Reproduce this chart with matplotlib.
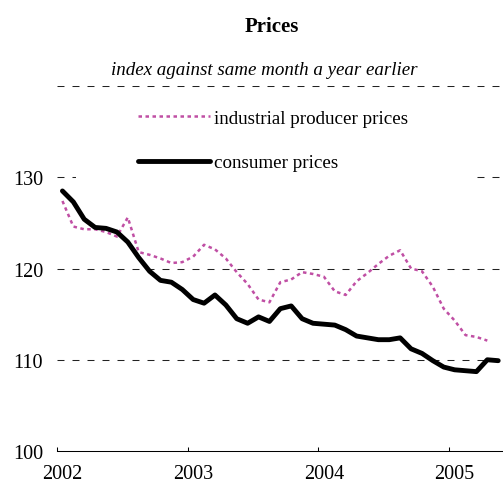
import numpy as np
import matplotlib
matplotlib.use('Agg')
import matplotlib.pyplot as plt
from matplotlib.patches import Rectangle

# Monthly data, Jan 2002 onwards (index against same month a year earlier)
years = ['2002', '2003', '2004', '2005']
consumer = [128.5, 127.3, 125.4, 124.5, 124.4, 124.0, 122.9, 121.2, 119.7, 118.7,
            118.5, 117.7, 116.6, 116.2, 117.1, 116.0, 114.5, 114.0, 114.7, 114.2,
            115.6, 115.9, 114.5, 114.0, 113.9, 113.8, 113.3, 112.6, 112.4, 112.2,
            112.2, 112.4, 111.2, 110.7, 109.9, 109.2, 108.9, 108.8, 108.7, 110.0,
            109.9]
producer = [127.4, 124.6, 124.3, 124.3, 124.0, 123.5, 125.6, 121.8, 121.5, 121.1,
            120.6, 120.7, 121.3, 122.6, 122.1, 121.1, 119.6, 118.3, 116.6, 116.3,
            118.5, 118.8, 119.6, 119.4, 119.1, 117.5, 117.1, 118.6, 119.5, 120.5,
            121.4, 122.0, 120.0, 119.7, 118.0, 115.6, 114.3, 112.7, 112.5, 112.1]

plt.rcParams['font.family'] = ['Liberation Serif', 'DejaVu Serif']

fig = plt.figure(figsize=(5.03, 4.85), dpi=100)
ax = fig.add_axes([0.1133, 0.068, 0.888, 0.7526])

# Dashed gridlines
for yv in [110, 120, 130, 140]:
    ax.axhline(yv, color='#222222', linewidth=0.75, linestyle=(0, (6.7, 7.7)), zorder=1)

# White area behind the legend (hides the gridline like the original)
ax.add_patch(Rectangle((0.043, 0.73), 0.883, 0.24, transform=ax.transAxes,
                       facecolor='white', edgecolor='none', zorder=1.5))

ax.plot(np.arange(len(producer)), producer, color='#C04FA4', linewidth=1.8,
        linestyle=(0, (1.4, 1.4)), label='industrial producer prices', zorder=3)
ax.plot(np.arange(len(consumer)), consumer, color='black', linewidth=3.5,
        solid_capstyle='round', solid_joinstyle='round', label='consumer prices', zorder=4)

ax.set_xlim(-0.5, len(consumer) - 0.5)
ax.set_ylim(100, 140)

ax.set_yticks([100, 110, 120, 130])
ax.tick_params(axis='y', length=0, pad=10, labelsize=14.5)

ax.set_xticks([-0.5, 11.5, 23.5, 35.5])
ax.set_xticklabels([])
ax.set_xticks([0, 12, 24, 36], minor=True)
ax.set_xticklabels(years, minor=True)
ax.tick_params(axis='x', which='major', direction='in', length=3, width=0.75)
ax.tick_params(axis='x', which='minor', length=0, pad=9.5, labelsize=14.5)

for s in ['left', 'right', 'top']:
    ax.spines[s].set_visible(False)
ax.spines['bottom'].set_linewidth(0.75)

ax.legend(loc='upper left', bbox_to_anchor=(0.1816, 0.935), frameon=False,
          fontsize=13.7, handlelength=3.8, handletextpad=0.2, labelspacing=1.42,
          borderpad=0, borderaxespad=0)

fig.text(0.541, 1 - 32 / 485, 'Prices', ha='center', va='baseline',
         fontsize=15, fontweight='bold')
fig.text(0.526, 1 - 75 / 485, 'index against same month a year earlier',
         ha='center', va='baseline', fontsize=13.7, style='italic')

fig.savefig('out.png', dpi=100)
